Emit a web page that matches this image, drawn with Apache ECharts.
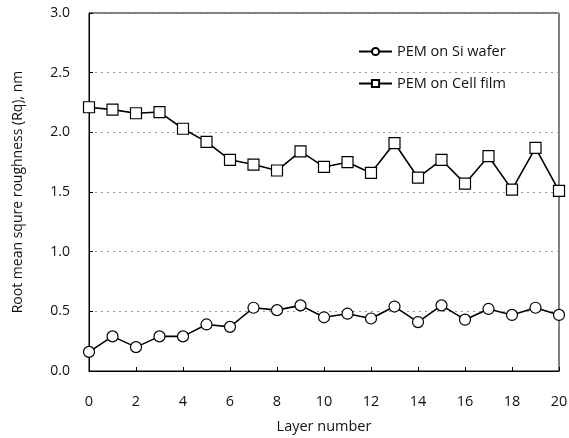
<!DOCTYPE html>
<html><head><meta charset="utf-8">
<script src="https://cdn.jsdelivr.net/npm/echarts@6/dist/echarts.min.js"></script>
<style>html,body{margin:0;padding:0;background:#fff}#c{width:569px;height:438px}</style>
</head><body><div id="c"></div>
<script>
const layers = [0,1,2,3,4,5,6,7,8,9,10,11,12,13,14,15,16,17,18,19,20];
const siWafer = [0.16,0.29,0.20,0.29,0.29,0.39,0.37,0.53,0.51,0.55,0.45,0.48,0.44,0.54,0.41,0.55,0.43,0.52,0.47,0.53,0.47];
const cellFilm = [2.21,2.19,2.16,2.17,2.03,1.92,1.77,1.73,1.68,1.84,1.71,1.75,1.66,1.91,1.62,1.77,1.57,1.80,1.52,1.87,1.51];
const seriesNames = ['PEM on Si wafer','PEM on Cell film'];
const xName = 'Layer number';
const yName = 'Root mean squre roughness (Rq), nm';
const pair = (ys) => layers.map((x,i)=>[x,ys[i]]);
const chart = echarts.init(document.getElementById('c'));
const font = 'Open Sans';
chart.setOption({
  animation:false,
  textStyle:{fontFamily:font},
  grid:{left:89,right:10,top:13,bottom:67,outerBoundsMode:'none',containLabel:false,show:true,borderColor:'#000',borderWidth:1,backgroundColor:'transparent'},
  legend:{orient:'vertical',left:353,top:39,itemGap:17,itemWidth:33,itemHeight:9,
    textStyle:{fontFamily:font,fontSize:14.5,color:'#111'},
    data:seriesNames},
  xAxis:{type:'value',min:0,max:20,interval:2,name:xName,nameLocation:'middle',nameGap:48,
    nameTextStyle:{fontFamily:font,fontSize:14.5,color:'#111'},
    axisLine:{lineStyle:{color:'#000',width:1}},
    axisTick:{inside:true,length:4,lineStyle:{color:'#000'}},
    axisLabel:{fontFamily:font,fontSize:14.5,color:'#111',margin:23},
    splitLine:{show:false}},
  yAxis:{type:'value',min:0,max:3,interval:0.5,name:yName,nameLocation:'middle',nameGap:64,
    nameTextStyle:{fontFamily:font,fontSize:14,color:'#111'},
    axisLine:{show:true,lineStyle:{color:'#000',width:1}},
    axisTick:{show:true,inside:true,length:4,lineStyle:{color:'#000'}},
    axisLabel:{fontFamily:font,fontSize:14,color:'#111',margin:19,formatter:v=>v.toFixed(1)},
    splitLine:{show:true,lineStyle:{color:'#999',type:[2,4],width:1}}},
  series:[
    {name:seriesNames[0],type:'line',data:pair(siWafer),symbol:'circle',symbolSize:11,
      lineStyle:{color:'#000',width:1.6},itemStyle:{color:'#fff',borderColor:'#000',borderWidth:1.2}},
    {name:seriesNames[1],type:'line',data:pair(cellFilm),symbol:'rect',symbolSize:11,
      lineStyle:{color:'#000',width:1.6},itemStyle:{color:'#fff',borderColor:'#000',borderWidth:1.2}}
  ]
});
</script></body></html>
